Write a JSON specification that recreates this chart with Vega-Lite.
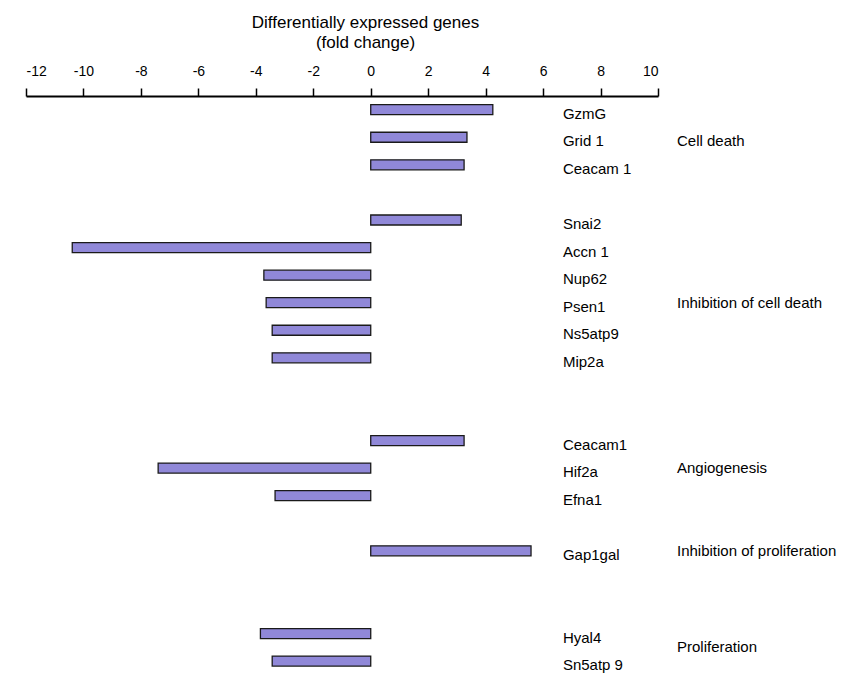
{
  "$schema": "https://vega.github.io/schema/vega-lite/v6.json",
  "width": 632,
  "height": 588,
  "autosize": {"type": "none"},
  "padding": {"left": 26, "top": 96, "right": 200, "bottom": 0},
  "config": {"view": {"stroke": null}, "font": "Liberation Sans"},
  "datasets": {
    "genes": [
      {"gene": "GzmG", "value": 4.25, "row": 0, "category": "Cell death"},
      {"gene": "Grid 1", "value": 3.35, "row": 1, "category": "Cell death"},
      {"gene": "Ceacam 1", "value": 3.25, "row": 2, "category": "Cell death"},
      {"gene": "Snai2", "value": 3.15, "row": 4, "category": "Inhibition of cell death"},
      {"gene": "Accn 1", "value": -10.39, "row": 5, "category": "Inhibition of cell death"},
      {"gene": "Nup62", "value": -3.72, "row": 6, "category": "Inhibition of cell death"},
      {"gene": "Psen1", "value": -3.64, "row": 7, "category": "Inhibition of cell death"},
      {"gene": "Ns5atp9", "value": -3.43, "row": 8, "category": "Inhibition of cell death"},
      {"gene": "Mip2a", "value": -3.43, "row": 9, "category": "Inhibition of cell death"},
      {"gene": "Ceacam1", "value": 3.25, "row": 12, "category": "Angiogenesis"},
      {"gene": "Hif2a", "value": -7.4, "row": 13, "category": "Angiogenesis"},
      {"gene": "Efna1", "value": -3.33, "row": 14, "category": "Angiogenesis"},
      {"gene": "Gap1gal", "value": 5.58, "row": 16, "category": "Inhibition of proliferation"},
      {"gene": "Hyal4", "value": -3.84, "row": 19, "category": "Proliferation"},
      {"gene": "Sn5atp 9", "value": -3.43, "row": 20, "category": "Proliferation"}
    ],
    "cats": [
      {"category": "Cell death", "row": 1},
      {"category": "Inhibition of cell death", "row": 6.85},
      {"category": "Angiogenesis", "row": 12.85},
      {"category": "Inhibition of proliferation", "row": 15.85},
      {"category": "Proliferation", "row": 19.35}
    ]
  },
  "layer": [
    {
      "data": {"name": "genes"},
      "mark": {"type": "bar", "orient": "horizontal", "size": 10, "fill": "#9088d8", "stroke": "#1a1a1a", "strokeWidth": 1.3},
      "encoding": {
        "y": {"field": "row", "type": "quantitative", "scale": {"domain": [-0.497, 20.83], "reverse": true, "nice": false, "zero": false, "padding": 0}, "axis": null},
        "x": {
          "field": "value", "type": "quantitative",
          "scale": {"domain": [-12, 10], "nice": false, "zero": false, "padding": 0},
          "axis": {
            "orient": "top",
            "values": [-12, -10, -8, -6, -4, -2, 0, 2, 4, 6, 8, 10],
            "labelExpr": "'' + datum.value",
            "grid": false,
            "domainColor": "black", "domainWidth": 2,
            "tickColor": "black", "tickWidth": 1.5, "tickSize": 8,
            "labelFontSize": 14, "labelColor": "black", "labelPadding": 10,
            "title": ["Differentially expressed genes", "(fold change)"],
            "titleFontSize": 17, "titleFontWeight": "normal", "titleColor": "black",
            "titleLineHeight": 20,
            "titleX": 339, "titleY": -74, "titleAlign": "center", "titleBaseline": "middle"
          }
        }
      }
    },
    {
      "mark": {"type": "rule", "color": "black", "strokeWidth": 2},
      "encoding": {"x": {"datum": 0, "type": "quantitative"}}
    },
    {
      "data": {"name": "genes"},
      "mark": {"type": "text", "align": "left", "baseline": "middle", "dy": 4, "fontSize": 15, "color": "black"},
      "encoding": {
        "x": {"datum": 6.69, "type": "quantitative"},
        "y": {"field": "row", "type": "quantitative"},
        "text": {"field": "gene"}
      }
    },
    {
      "data": {"name": "cats"},
      "mark": {"type": "text", "align": "left", "baseline": "middle", "dy": 4, "fontSize": 15, "color": "black"},
      "encoding": {
        "x": {"datum": 10.66, "type": "quantitative"},
        "y": {"field": "row", "type": "quantitative"},
        "text": {"field": "category"}
      }
    }
  ]
}
